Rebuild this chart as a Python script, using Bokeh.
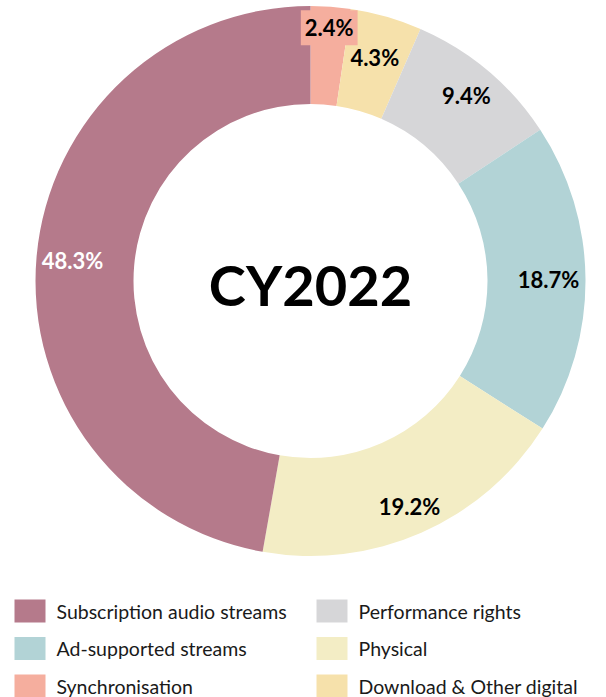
import math
from bokeh.plotting import figure
from bokeh.models import Range1d
from bokeh.core.properties import value
from bokeh.embed import file_html
from bokeh.resources import INLINE

# ---- data (clockwise from 12 o'clock) ----
categories = ["Synchronisation", "Download & Other digital", "Performance rights",
              "Ad-supported streams", "Physical", "Subscription audio streams"]
shares = [2.4, 4.3, 9.4, 18.7, 19.2, 48.3]
colors = ["#F5AE9E", "#F6E1AB", "#D6D6D8", "#B2D3D6", "#F3EDC5", "#B57A8B"]
label_colors = ["black", "black", "black", "black", "black", "white"]
center_title = "CY2022"

legend_order = ["Subscription audio streams", "Performance rights",
                "Ad-supported streams", "Physical",
                "Synchronisation", "Download & Other digital"]

# ---- style / layout ----
W, H = 606, 697
FONT = "Lato"
def px(X): return X
def py(Y): return H - Y

cx, cy = px(310), py(280.5)
R_OUT, R_IN = 275, 177
label_r = [254, 233, 242, 238, 246, 239]

p = figure(width=W, height=H, output_backend="svg", toolbar_location=None,
           x_range=Range1d(0, W), y_range=Range1d(0, H), min_border=0)
p.axis.visible = False
p.grid.visible = False
p.outline_line_color = None
p.background_fill_color = "white"
p.border_fill_color = "white"

total = sum(shares)
cum = 0.0
starts, ends, mids = [], [], []
for s in shares:
    a0 = math.pi / 2 - 2 * math.pi * cum / total
    cum += s
    a1 = math.pi / 2 - 2 * math.pi * cum / total
    starts.append(a0); ends.append(a1); mids.append((a0 + a1) / 2)

p.annular_wedge(x=[cx] * len(shares), y=[cy] * len(shares), inner_radius=R_IN,
                outer_radius=R_OUT, start_angle=starts, end_angle=ends,
                direction="clock", fill_color=colors, line_color=None)

# data labels
lx = [cx + r * math.cos(m) for r, m in zip(label_r, mids)]
ly = [cy + r * math.sin(m) for r, m in zip(label_r, mids)]
texts = [f"{s:.1f}%" for s in shares]
p.text(x=lx[:1], y=ly[:1], text=texts[:1], text_font=value(FONT), text_font_style="bold",
       text_font_size="22px", text_align="center", text_baseline="middle",
       text_color=label_colors[:1], background_fill_color=colors[0], padding=4)
p.text(x=lx[1:], y=ly[1:], text=texts[1:], text_font=value(FONT), text_font_style="bold",
       text_font_size="22px", text_align="center", text_baseline="middle",
       text_color=label_colors[1:])

# center title
p.text(x=[cx], y=[cy - 3], text=[center_title], text_font=value(FONT),
       text_font_style="bold", text_font_size="56px", text_align="center",
       text_baseline="middle", text_color="black")

# legend
col_x = [px(14), px(316)]
row_y = [py(610.5), py(648), py(685.5)]
mx, my, tx, ty, mc = [], [], [], [], []
for i, name in enumerate(legend_order):
    c, r = i % 2, i // 2
    mx.append(col_x[c] + 15.5); my.append(row_y[r])
    tx.append(col_x[c] + 42); ty.append(row_y[r])
    mc.append(colors[categories.index(name)])
p.rect(x=mx, y=my, width=31, height=23, fill_color=mc, line_color=None)
p.text(x=tx, y=ty, text=legend_order, text_font=value(FONT), text_font_size="19.5px",
       text_align="left", text_baseline="middle", text_color="#1a1a1a")

open("out.html", "w").write(file_html(p, INLINE))
